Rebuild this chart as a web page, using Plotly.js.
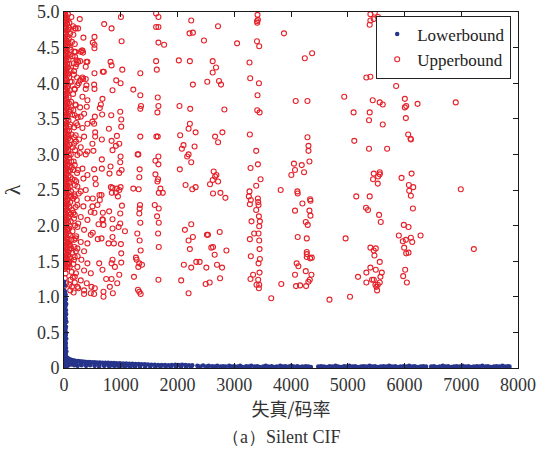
<!DOCTYPE html>
<html>
<head>
<meta charset="utf-8">
<script src="https://cdn.plot.ly/plotly-3.0.1.min.js"></script>
<style>
  html, body { margin: 0; padding: 0; background: #fff; }
  #chart { width: 538px; height: 453px; }
</style>
</head>
<body>
<div id="chart"></div>
<script>
// Lower bound of lambda: a tall spike near zero, then a thin band along the axis.
const lowerSpike = [
  [3,1.21],[8,1.16],[5,1.09],[20,1.07],[12,1.05],[30,1.03],[2,1.02],[18,1.00],[9,0.99],[35,0.97],
  [25,0.95],[4,0.94],[15,0.92],[40,0.90],[11,0.89],[28,0.87],[7,0.85],[22,0.83],[33,0.81],[3,0.80],
  [13,0.78],[38,0.76],[26,0.74],[6,0.73],[19,0.71],[31,0.69],[10,0.67],[42,0.65],[24,0.64],[2,0.62],
  [16,0.60],[35,0.58],[8,0.57],[27,0.55],[20,0.53],[5,0.51],[38,0.49],[14,0.48],[30,0.46],[9,0.44],
  [23,0.42],[40,0.41],[3,0.39],[17,0.37],[33,0.35],[11,0.34],[26,0.32],[6,0.30],[36,0.28],[20,0.27],
  [13,0.25],[42,0.23],[4,0.22],[29,0.20],[16,0.18],[8,0.16],[38,0.14],[22,0.12],[12,0.10],[32,0.08],
  [5,0.06],[25,0.04],[15,0.02],[45,0.01]
];
const lowerBand = [
  [30,0.18],[45,0.15],[60,0.14],[80,0.13],[100,0.12],[125,0.115],[150,0.11],[180,0.105],[210,0.10],
  [245,0.097],[280,0.094],[320,0.09],[360,0.088],[400,0.086],[445,0.084],[490,0.082],[535,0.08],[580,0.079],
  [630,0.077],[680,0.075],[730,0.073],[780,0.072],[830,0.07],[880,0.069],[930,0.068],[985,0.066],[1040,0.064],
  [1095,0.063],[1150,0.061],[1205,0.059],[1260,0.057],[1315,0.055],[1370,0.053],[1425,0.051],[1480,0.049],
  [1540,0.046],[1600,0.044],[1660,0.042],[1720,0.041],[1780,0.042],[1840,0.04],[1900,0.041],[1960,0.044],
  [2020,0.042],[2080,0.045],[2140,0.043],[2200,0.04],[2260,0.038],
  [40,0.09],[90,0.07],[150,0.065],[220,0.06],[300,0.055],[380,0.05],[460,0.05],[540,0.045],[620,0.045],
  [700,0.04],[780,0.04],[860,0.04],[940,0.035],[1020,0.035],[1100,0.035],[1180,0.03],[1260,0.03],[1340,0.03],
  [40,0.05],[80,0.04],[130,0.05],[180,0.04],[240,0.03],[310,0.04],[390,0.03],[460,0.04],[540,0.03],
  [620,0.02],[710,0.03],[800,0.02],[890,0.03],[980,0.02],[1070,0.02],[1160,0.02],[1250,0.015],[1340,0.02],
  [1430,0.01],[1520,0.02],[1610,0.01],[1700,0.015],[1790,0.01],[1880,0.015],[1970,0.01],[2060,0.01],
  [2150,0.015],[2240,0.01],
  [2350,0.03],[2395,0.02],[2450,0.035],[2505,0.02],[2550,0.03],[2610,0.025],[2655,0.02],[2700,0.03],
  [2760,0.02],[2805,0.025],[2850,0.02],[2910,0.03],[2955,0.02],[3000,0.025],[3060,0.02],[3105,0.03],
  [3150,0.015],[3210,0.025],[3255,0.02],[3300,0.03],[3360,0.02],[3405,0.025],[3450,0.015],[3510,0.02],
  [3555,0.03],[3600,0.02],[3660,0.025],[3705,0.015],[3750,0.02],[3810,0.03],[3855,0.02],[3900,0.025],
  [3960,0.02],[4005,0.03],[4050,0.02],[4110,0.025],[4155,0.015],[4200,0.02],[4260,0.025],[4305,0.02],
  [4350,0.015],[4480,0.02],[4530,0.025],[4580,0.02],[4635,0.015],[4680,0.025],[4730,0.02],[4785,0.03],
  [4830,0.02],[4880,0.015],[4935,0.025],[4980,0.02],[5030,0.03],[5085,0.02],[5130,0.025],[5180,0.015],
  [5235,0.02],[5280,0.025],[5330,0.02],[5385,0.03],[5430,0.02],[5480,0.025],[5535,0.015],[5580,0.02],
  [5630,0.025],[5685,0.02],[5730,0.03],[5780,0.02],[5835,0.025],[5880,0.015],[5930,0.02],[5985,0.025],
  [6030,0.02],[6080,0.03],[6135,0.02],[6180,0.025],[6230,0.015],[6285,0.02],[6330,0.025],[6380,0.02],
  [6470,0.02],[6520,0.025],[6570,0.015],[6620,0.02],[6675,0.03],[6720,0.02],[6770,0.025],[6825,0.015],
  [6870,0.02],[6920,0.025],[6975,0.02],[7020,0.03],[7070,0.02],[7125,0.025],[7170,0.015],[7220,0.02],
  [7275,0.025],[7320,0.02],[7370,0.03],[7425,0.02],[7470,0.025],[7520,0.015],[7575,0.02],[7620,0.025],
  [7670,0.02],[7725,0.03],[7770,0.02],[7820,0.025],[7850,0.02]
];

// Upper bound of lambda: a dense cloud at small ratios ...
const upperDense = [
  [3,4.99],[18,4.98],[8,4.96],[30,4.95],[12,4.93],[45,4.92],[2,4.91],[22,4.89],[38,4.87],[6,4.86],
  [15,4.84],[55,4.83],[27,4.81],[4,4.79],[35,4.78],[10,4.76],[48,4.74],[20,4.72],[1,4.71],[32,4.69],
  [14,4.67],[58,4.66],[7,4.64],[25,4.62],[42,4.60],[11,4.59],[3,4.57],[36,4.55],[19,4.53],[52,4.52],
  [9,4.50],[28,4.48],[2,4.46],[44,4.45],[16,4.43],[33,4.41],[6,4.39],[24,4.38],[50,4.36],[13,4.34],
  [40,4.32],[4,4.30],[21,4.29],[57,4.27],[31,4.25],[8,4.23],[46,4.21],[17,4.20],[1,4.18],[37,4.16],
  [26,4.14],[11,4.12],[53,4.11],[5,4.09],[29,4.07],[43,4.05],[15,4.03],[22,4.01],[3,3.99],[39,3.98],
  [10,3.96],[56,3.94],[19,3.92],[34,3.90],[6,3.88],[47,3.86],[25,3.85],[12,3.83],[2,3.81],[41,3.79],
  [30,3.77],[16,3.75],[54,3.73],[8,3.72],[23,3.70],[36,3.68],[4,3.66],[49,3.64],[14,3.62],[28,3.60],
  [1,3.59],[43,3.57],[20,3.55],[9,3.53],[58,3.51],[32,3.49],[5,3.47],[17,3.46],[45,3.44],[26,3.42],
  [11,3.40],[38,3.38],[3,3.36],[51,3.34],[21,3.33],[13,3.31],[34,3.29],[7,3.27],[55,3.25],[24,3.23],
  [42,3.21],[2,3.20],[15,3.18],[30,3.16],[48,3.14],[9,3.12],[19,3.10],[37,3.08],[4,3.07],[27,3.05],
  [52,3.03],[12,3.01],[40,2.99],[6,2.97],[22,2.95],[33,2.93],[1,2.92],[46,2.90],[16,2.88],[29,2.86],
  [57,2.84],[8,2.82],[24,2.80],[39,2.79],[3,2.77],[14,2.75],[50,2.73],[31,2.71],[10,2.69],[20,2.67],
  [44,2.66],[5,2.64],[35,2.62],[25,2.60],[13,2.58],[54,2.56],[2,2.54],[41,2.53],[18,2.51],[28,2.49],
  [7,2.47],[47,2.45],[22,2.43],[36,2.41],[11,2.40],[1,2.38],[53,2.36],[30,2.34],[15,2.32],[43,2.30],
  [6,2.28],[26,2.27],[38,2.25],[9,2.23],[58,2.21],[19,2.19],[33,2.17],[3,2.15],[45,2.14],[14,2.12],
  [24,2.10],[51,2.08],[8,2.06],[29,2.04],[40,2.02],[2,2.01],[17,1.99],[35,1.97],[55,1.95],[11,1.93],
  [22,1.91],[46,1.89],[5,1.88],[31,1.86],[16,1.84],[42,1.82],[1,1.80],[27,1.78],[12,1.76],[52,1.75],
  [37,1.73],[7,1.71],[20,1.69],[48,1.67],[3,1.65],[33,1.63],[14,1.62],[25,1.60],[44,1.58],[9,1.56],
  [39,1.54],[2,1.52],[18,1.50],[30,1.49],[55,1.47],[6,1.45],[23,1.43],[41,1.41],[12,1.39],
  [28,1.33],[15,1.26],[38,1.19],[3,1.15]
];
// ... thinning out over the first few hundred ...
const upperNear = [
  [70,4.97],[95,4.85],[130,4.93],[75,4.75],[160,4.80],[110,4.70],[85,4.62],[140,4.58],[65,4.52],[120,4.47],
  [190,4.55],[100,4.40],[80,4.33],[150,4.38],[220,4.27],[68,4.22],[115,4.18],[175,4.12],[90,4.08],[135,4.02],
  [72,3.96],[260,4.00],[105,3.90],[160,3.85],[82,3.80],[125,3.74],[200,3.70],[66,3.66],[98,3.60],[145,3.56],
  [240,3.52],[78,3.48],[112,3.42],[180,3.38],[88,3.33],[132,3.28],[70,3.22],[210,3.18],[102,3.14],[155,3.10],
  [76,3.05],[120,3.00],[280,3.02],[92,2.95],[170,2.90],[66,2.86],[138,2.82],[108,2.77],[230,2.74],[80,2.70],
  [150,2.65],[95,2.60],[190,2.57],[72,2.52],[125,2.48],[260,2.45],[86,2.42],[160,2.38],[110,2.33],[68,2.30],
  [205,2.26],[140,2.22],[90,2.18],[78,2.12],[175,2.10],[118,2.06],[250,2.03],[100,1.99],[66,1.95],[150,1.92],
  [85,1.88],[215,1.85],[130,1.80],[75,1.76],[105,1.72],[185,1.70],[92,1.66],[145,1.62],[70,1.58],[240,1.57],
  [120,1.53],[82,1.49],[165,1.46],[100,1.42],[135,1.35],[210,1.33],[155,1.27],[115,1.24],
  [190,1.20],[95,1.17],[140,1.14],[250,1.12],[110,1.09],[170,1.06],[62,1.42],
  [64,4.88],[88,4.78],[78,4.57],[102,4.50],[62,4.41],[92,4.27],[74,4.14],[108,4.02],[63,3.88],[86,3.72],
  [118,3.63],[64,3.54],[94,3.39],[76,3.28],[110,3.20],[63,3.12],[85,2.99],[128,2.90],[98,2.84],[70,2.76],
  [115,2.68],[63,2.61],[104,2.55],[84,2.46],[130,2.41],[64,2.36],[96,2.26],[122,2.16],[70,2.05],[88,1.96],
  [112,1.86],[64,1.80],[96,1.74],[126,1.68],[78,1.63],[106,1.56],[64,1.52],[90,1.46],
  [165,4.68],[200,4.44],[175,4.28],[230,4.08],[185,3.92],[165,3.62],[215,3.44],[175,3.24],[195,3.06],
  [165,2.78],[215,2.62],[180,2.44],[225,2.36],[165,2.18],[195,2.00],[180,1.80],[210,1.64],[175,1.52],
  [278,4.90],[195,4.77],[248,4.77],[206,4.77],[183,4.44],[195,4.37],[248,4.30],[325,4.46],[295,4.44],
  [224,4.32],[283,4.31],[413,4.30],[383,4.23],[206,4.23],[177,4.17],[325,4.08],[283,4.04],[189,3.91],
  [236,3.97],[325,3.81],[413,3.76],[206,3.69],[283,3.66],[401,3.67],[354,3.57],[189,3.55],[295,3.53],
  [413,3.43],[236,3.41],[325,3.37],[206,3.27],[265,3.21],[354,3.25],[177,3.15],[295,3.10],[413,3.04],
  [383,3.00],[236,2.99],[189,2.85],[248,2.78],[325,2.80],[413,2.71],[342,2.66],[189,2.64],[236,2.55],
  [383,2.50],[295,2.48],[189,2.41],[413,2.38],[236,2.29],[342,2.27],[472,2.19],[189,2.15],[295,2.12],
  [413,2.08],[236,1.98],[354,1.94],[472,1.87],[206,1.82],[295,1.77],[413,1.75],[236,1.68],[354,1.64],
  [189,1.56],[307,1.52],[413,1.47],[236,1.42],[354,1.37],[472,1.33],[189,1.28],[295,1.23],[401,1.19],
  [236,1.14],[354,1.09],[472,1.05]
];
// ... and scattered points in loose columns across the whole range.
const upperFar = [
  [708,4.83],[838,4.77],[1003,4.93],[1623,4.98],[1664,4.93],[1623,4.79],[1664,4.79],[2242,4.88],[2714,4.80],
  [2212,4.70],[2271,4.71],[3410,4.96],[3400,4.87],[3417,4.89],[3405,4.85],[3876,4.70],[342,4.64],[537,4.65],
  [507,4.57],[537,4.54],[537,4.49],[1015,4.59],[1664,4.57],[1764,4.54],[2466,4.60],[3050,4.56],[3400,4.59],
  [3440,4.52],[4372,4.42],[4243,4.35],[313,4.46],[336,4.43],[820,4.30],[838,4.25],[395,4.30],[1027,4.19],
  [684,4.16],[702,4.16],[1345,4.14],[1623,4.31],[1635,4.19],[2023,4.32],[2218,4.31],[2620,4.31],[2679,4.22],
  [2620,4.15],[3269,4.29],[336,4.06],[383,4.06],[537,4.14],[920,4.04],[997,4.00],[1345,3.83],[1221,3.91],
  [2271,3.98],[2525,4.02],[2732,4.03],[2767,3.98],[3281,4.07],[3435,4.00],[3410,3.83],[395,3.97],[383,3.92],
  [531,3.98],[537,3.92],[855,3.90],[678,3.78],[649,3.70],[631,3.65],[991,3.60],[1009,3.49],[1009,3.39],
  [1357,3.68],[1345,3.64],[1652,3.80],[1664,3.68],[1646,3.59],[2035,3.68],[2224,3.64],[2826,3.63],[3405,3.62],
  [3447,3.59],[4083,3.75],[4290,3.75],[4938,3.81],[5103,3.59],[672,3.56],[543,3.53],[501,3.46],[531,3.43],
  [832,3.55],[791,3.36],[2218,3.43],[2195,3.36],[2319,3.31],[2047,3.27],[1652,3.25],[1628,3.25],[1345,3.25],
  [932,3.26],[3275,3.28],[2662,3.25],[2715,3.17],[2791,3.31],[4290,3.24],[5115,3.19],[4308,3.12],[4308,3.05],
  [3387,3.05],[2106,3.13],[2077,3.08],[2301,3.11],[2195,3.00],[2171,2.97],[2242,2.89],[974,3.15],[915,3.12],
  [838,3.19],[855,3.06],[1310,3.00],[1298,3.00],[997,2.97],[991,2.89],[1664,2.97],[1611,2.91],[1664,2.86],
  [667,2.93],[501,3.15],[519,3.05],[549,3.25],[549,3.31],[667,3.21],[820,2.83],[802,2.73],[667,2.80],
  [531,2.79],[549,2.66],[1333,2.79],[1327,2.68],[973,2.74],[1015,2.78],[1611,2.72],[1658,2.65],[1646,2.62],
  [2041,2.79],[2638,2.76],[2685,2.71],[2662,2.69],[2620,2.64],[2715,2.62],[3287,2.81],[3417,2.86],[3464,2.65],
  [3387,2.56],[3818,2.50],[4112,2.48],[2142,2.57],[2319,2.54],[2260,2.51],[2573,2.58],[2626,2.45],[2756,2.46],
  [1699,2.52],[1670,2.46],[1741,2.46],[1221,2.52],[1316,2.51],[855,2.53],[843,2.46],[915,2.46],[974,2.50],
  [997,2.54],[507,2.38],[625,2.43],[2844,2.39],[3269,2.48],[3257,2.41],[3417,2.38],[4337,2.37],
  [3652,0.98],[3829,1.18],[3292,2.36],[3422,2.33],[3275,2.30],[3428,2.29],[3387,2.22],[3434,2.13],[3304,2.06],
  [3452,2.06],[3440,1.99],[3351,1.89],[3428,1.89],[3275,1.81],[3440,1.79],[3446,1.67],[3292,1.57],[3452,1.53],
  [3428,1.47],[3446,1.34],[3333,1.31],[3286,1.25],[3422,1.24],[3393,1.17],[3440,1.17],[3434,1.12],[2744,1.91],
  [2537,1.87],[2519,1.87],[2242,2.02],[2130,1.94],[2271,1.84],[2195,1.79],[2218,1.67],[2596,1.69],[2626,1.70],
  [2655,1.59],[2862,1.65],[2331,1.49],[2390,1.49],[2112,1.45],[2242,1.41],[2508,1.41],[2696,1.45],[2785,1.41],
  [2065,1.23],[2195,1.05],[2496,1.18],[2567,1.20],[2750,1.26],[1664,1.24],[1304,1.10],[1327,1.07],[1351,1.04],
  [1268,1.55],[1280,1.52],[1233,1.28],[1327,1.47],[1374,1.45],[1310,1.42],[1351,1.65],[1292,1.89],[1333,1.79],
  [1345,2.04],[1327,2.17],[1333,2.24],[1339,2.29],[1670,1.70],[1658,1.89],[1670,2.04],[1640,2.13],[1670,2.24],
  [1599,2.29],[1074,1.92],[1003,1.74],[1009,1.48],[974,1.31],[1009,1.61],[938,1.19],[861,1.05],[808,1.14],
  [696,1.07],[696,1.00],[531,1.04],[484,1.14],[354,1.04],[543,1.12],[620,1.47],[838,1.25],[743,1.25],
  [678,1.38],[838,1.47],[855,1.52],[897,1.42],[785,1.75],[879,1.75],[855,1.84],[855,2.09],[991,2.03],
  [962,1.98],[855,1.96],[678,2.09],[696,2.01],[661,1.82],[596,1.81],[537,2.18],[501,2.27],[590,2.29],
  [507,1.90],[826,2.54],[932,2.52],[950,2.41],[1021,2.28],[991,2.17],[796,2.20],[684,2.18],[661,2.43],
  [631,2.36],[684,2.08],[608,2.02],[560,2.58],
  [5399,4.97],[5475,4.99],[5534,4.93],[5458,4.90],[5399,4.88],[5387,4.82],[5328,4.08],[5399,4.09],[5853,3.96],
  [5440,3.76],[5564,3.73],[5617,3.70],[6006,3.78],[6030,3.68],[6006,3.66],[6230,3.71],[6903,3.73],[5387,3.59],
  [5375,3.48],[5617,3.42],[6024,3.51],[5375,3.08],[5694,3.08],[6065,3.28],[6107,3.22],[6113,3.21],
  [4052,2.87],[4189,2.85],[4071,2.78],[4230,2.75],[4325,2.90],[4006,2.71],[5458,2.73],[5564,2.75],[5564,2.72],
  [5535,2.69],[5446,2.65],[5529,2.59],[5948,2.67],[6125,2.73],[6077,2.57],[6154,2.54],[6083,2.49],[6112,2.42],
  [6148,2.24],[6992,2.51],[4118,2.45],[4201,2.31],[4343,2.35],[4071,2.21],[4325,2.21],[4343,2.14],[5150,2.41],
  [5387,2.41],[5322,2.25],[5357,2.22],[5552,2.15],[5582,2.05],[4260,2.05],[4295,2.01],[5988,2.01],[6071,1.98],
  [4118,1.84],[4278,1.82],[4962,1.82],[5900,1.86],[6283,1.86],[6112,1.83],[5970,1.78],[6024,1.80],[6136,1.77],
  [5994,1.69],[6029,1.61],[6071,1.62],[7222,1.67],[5399,1.69],[5494,1.68],[5458,1.65],[5470,1.58],[5564,1.49],
  [4278,1.63],[4278,1.60],[4278,1.56],[4337,1.54],[4366,1.55],[4100,1.47],[4130,1.43],[4260,1.36],[4071,1.31],
  [4360,1.31],[4331,1.24],[4307,1.21],[4089,1.15],[4160,1.16],[4266,1.15],[4678,0.96],[5040,1.00],[5181,1.28],
  [5328,1.20],[5428,1.24],[5458,1.24],[5487,1.17],[5505,1.14],[5529,1.17],[5564,1.20],[5517,1.09],[5576,1.28],
  [5600,1.34],[5399,1.41],[5494,1.38],[5328,1.34],[6012,1.38],[5977,1.29],[6042,1.20]
];

const xTicks = [0, 1000, 2000, 3000, 4000, 5000, 6000, 7000, 8000];
const yTicks = [0, 0.5, 1, 1.5, 2, 2.5, 3, 3.5, 4, 4.5, 5];
const yTickText = ['0', '0.5', '1.0', '1.5', '2.0', '2.5', '3.0', '3.5', '4.0', '4.5', '5.0'];

const RED = '#e52129';
const BLUE = '#27348b';
// single family names only: a comma list is not picked up here
const SERIF = 'Liberation Serif';
const CJK = 'Noto Sans CJK SC';

const lowerPts = lowerSpike.concat(lowerBand);
const upperPts = upperDense.concat(upperNear, upperFar);

// Upper drawn first so the blue band sits on top; legend order is flipped back.
const traces = [
  {
    type: 'scatter', mode: 'markers', name: 'Upperbound',
    x: upperPts.map(p => p[0]), y: upperPts.map(p => p[1]),
    marker: { symbol: 'circle-open', size: 5, color: RED, line: { width: 1.1, color: RED } }
  },
  {
    type: 'scatter', mode: 'markers', name: 'Lowerbound',
    x: lowerPts.map(p => p[0]), y: lowerPts.map(p => p[1]),
    marker: { symbol: 'circle', size: 4.5, color: BLUE, line: { width: 0 } }
  }
];

const axisCommon = {
  showline: true, linecolor: '#1a1a1a', linewidth: 1, mirror: 'ticks',
  ticks: 'inside', ticklen: 5, tickwidth: 1, tickcolor: '#1a1a1a',
  showgrid: false, zeroline: false, automargin: false,
  tickfont: { family: SERIF, size: 18, color: '#333' }
};

const layout = {
  width: 538, height: 453,
  margin: { l: 64, r: 20, t: 12, b: 85 },
  paper_bgcolor: '#fff', plot_bgcolor: '#fff',
  showlegend: true,
  legend: {
    x: 0.985, y: 0.99, xanchor: 'right', yanchor: 'top', traceorder: 'reversed',
    bgcolor: '#fff', bordercolor: '#222', borderwidth: 1,
    font: { family: SERIF, size: 17, color: '#222' },
    itemwidth: 30, tracegroupgap: 0
  },
  xaxis: Object.assign({}, axisCommon, {
    range: [0, 8000], tickvals: xTicks, ticktext: xTicks.map(String),
    title: { text: '失真/码率', font: { family: CJK, size: 18, color: '#333' }, standoff: 8 }
  }),
  yaxis: Object.assign({}, axisCommon, {
    range: [0, 5], tickvals: yTicks, ticktext: yTickText,
    title: { text: 'λ', font: { family: SERIF, size: 22, color: '#333' }, standoff: 12 }
  }),
  annotations: [{
    text: '（a）Silent CIF', xref: 'paper', yref: 'paper',
    x: 0.48, y: -0.194, xanchor: 'center', yanchor: 'middle', showarrow: false,
    font: { family: SERIF, size: 18, color: '#333' }
  }]
};

Plotly.newPlot('chart', traces, layout, { staticPlot: true, displayModeBar: false });
</script>
</body>
</html>
